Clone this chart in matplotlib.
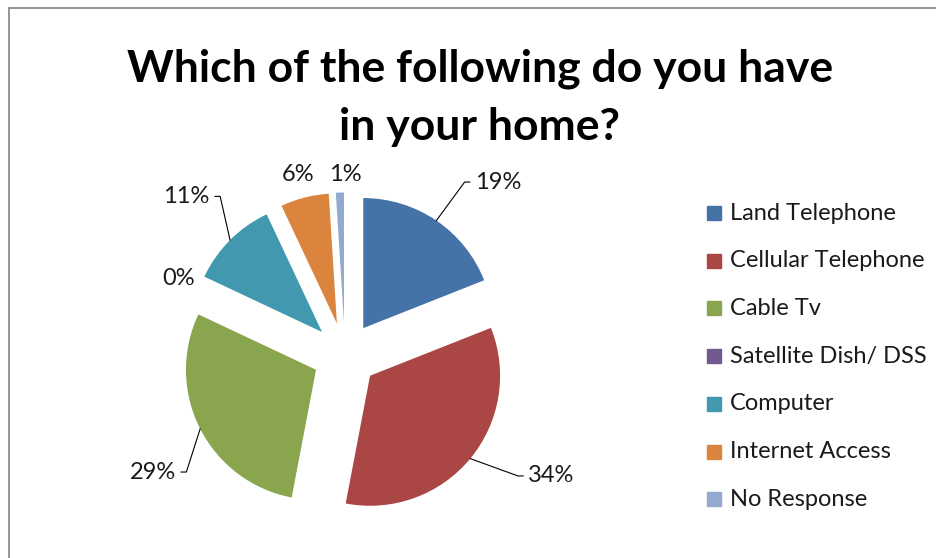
import numpy as np
import matplotlib.pyplot as plt
from matplotlib.patches import Rectangle
from matplotlib.lines import Line2D

# Data
categories = ['Land Telephone', 'Cellular Telephone', 'Cable Tv', 'Satellite Dish/ DSS',
              'Computer', 'Internet Access', 'No Response']
values = [19, 34, 29, 0, 11, 6, 1]
pct_labels = ['19%', '34%', '29%', '0%', '11%', '6%', '1%']
colors = ['#4572A7', '#AA4643', '#89A54E', '#71588F', '#4198AF', '#DB843D', '#93A9CF']

# label placement (pie radius = 1) and whether a leader line is drawn
label_pos = [(1.00, 1.33, 'left'), (1.41, -0.93, 'left'), (-1.30, -0.90, 'right'),
             (-1.28, 0.59, 'center'), (-1.04, 1.22, 'right'), (-0.36, 1.39, 'center'),
             (0.0, 1.39, 'center')]
leaders = [True, True, True, False, True, False, False]

plt.rcParams['font.family'] = ['Lato', 'DejaVu Sans']

fig = plt.figure(figsize=(9.36, 5.58), dpi=100)

# chart frame (only top/left visible in the crop)
fig.add_artist(Line2D([8.5 / 936, 8.5 / 936], [0, 1 - 7.5 / 558], transform=fig.transFigure,
                      color='#8c8c8c', lw=1.3))
fig.add_artist(Line2D([8.5 / 936, 1], [1 - 7.5 / 558, 1 - 7.5 / 558], transform=fig.transFigure,
                      color='#8c8c8c', lw=1.3))

fig.text(480 / 936, 1 - 98 / 558, 'Which of the following do you have\nin your home?',
         ha='center', va='center', fontsize=32, fontweight='bold', linespacing=1.55)

ax = fig.add_axes([145 / 936, 1 - 555 / 558, 400 / 936, 400 / 558])
explode = [0.25] * len(values)
wedges, _ = ax.pie(values, colors=colors, startangle=90, counterclock=False,
                   explode=explode, radius=1.0, wedgeprops=dict(linewidth=0))
ax.set_xlim(-1.538, 1.538)
ax.set_ylim(-1.538, 1.538)
ax.set_aspect('equal')
ax.axis('off')

total = sum(values)
start = 90.0
for i, v in enumerate(values):
    sweep = v / total * 360
    mid = np.deg2rad(start - sweep / 2)
    start -= sweep
    tx, ty, ha = label_pos[i]
    ax.text(tx, ty, pct_labels[i], ha=ha, va='center', fontsize=17, color='#1a1a1a')
    if leaders[i]:
        ex = explode[i] * np.cos(mid)
        ey = explode[i] * np.sin(mid)
        px, py = ex + np.cos(mid), ey + np.sin(mid)
        side = 1 if ha == 'left' else -1
        hx = tx - side * 0.04
        ax.plot([px, hx - side * 0.04, hx], [py, ty, ty], color='black', lw=0.8)

# legend
leg_y0 = 213
for i, name in enumerate(categories):
    y = leg_y0 + i * 47.7
    fig.add_artist(Rectangle((707 / 936, 1 - (y + 7) / 558), 14 / 936, 14 / 558,
                             transform=fig.transFigure, color=colors[i]))
    fig.text(730 / 936, 1 - y / 558, name, ha='left', va='center', fontsize=17, color='#1a1a1a')

plt.savefig('out.png', dpi=100)
